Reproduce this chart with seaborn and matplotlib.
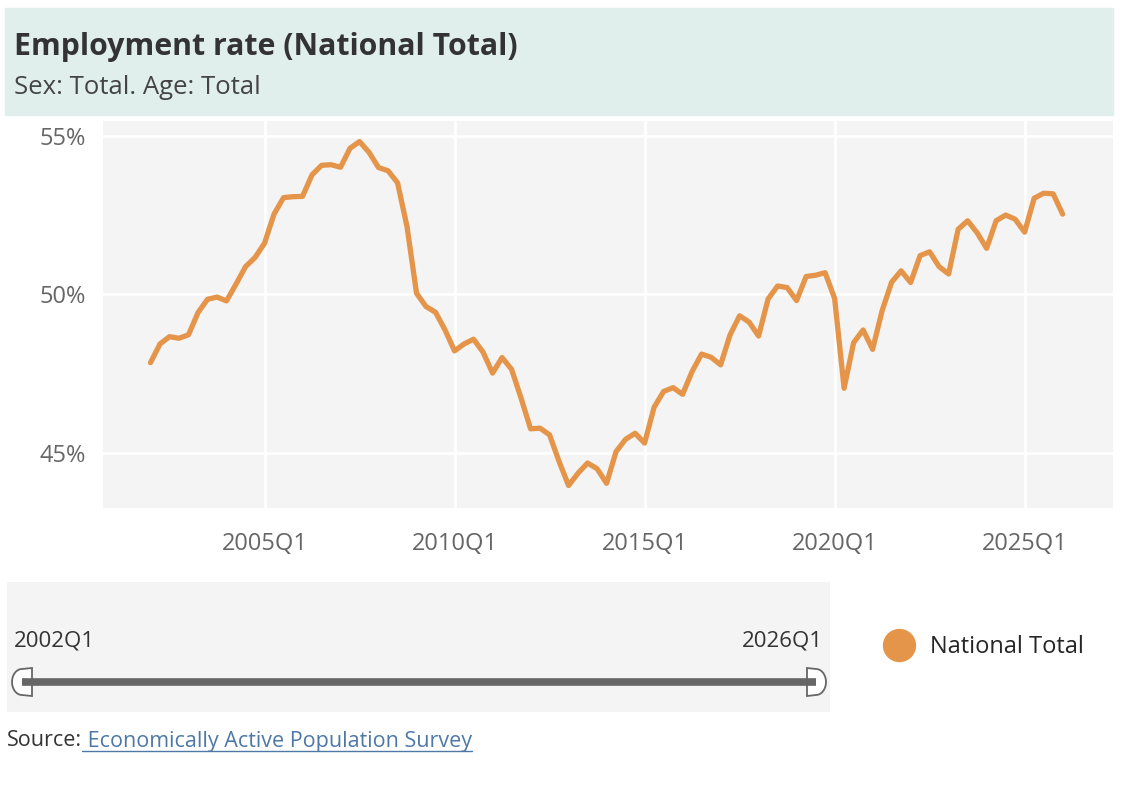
import seaborn as sns
import matplotlib.pyplot as plt
import numpy as np
import pandas as pd
from matplotlib.patches import Rectangle, Polygon
from matplotlib.lines import Line2D

# employment rate, quarterly 2002Q1 .. 2026Q1
rate = [
    47.84, 48.43, 48.66, 48.61, 48.72, 49.42, 49.84, 49.91, 49.79, 50.32, 50.87, 51.16,
    51.61, 52.53, 53.05, 53.08, 53.09, 53.77, 54.07, 54.09, 54.01, 54.61, 54.82, 54.48,
    54.00, 53.90, 53.52, 52.13, 50.03, 49.61, 49.43, 48.87, 48.21, 48.43, 48.58, 48.17,
    47.51, 48.00, 47.63, 46.72, 45.75, 45.77, 45.56, 44.72, 43.96, 44.35, 44.67, 44.49,
    44.03, 45.03, 45.42, 45.61, 45.30, 46.43, 46.93, 47.05, 46.84, 47.56, 48.11, 48.01,
    47.77, 48.72, 49.32, 49.12, 48.68, 49.85, 50.26, 50.21, 49.80, 50.56, 50.60, 50.68,
    49.87, 47.03, 48.47, 48.87, 48.26, 49.48, 50.38, 50.74, 50.37, 51.22, 51.34, 50.87,
    50.64, 52.05, 52.32, 51.94, 51.45, 52.32, 52.50, 52.37, 51.96, 53.03, 53.19, 53.17,
    52.53,
]
quarters = [f"{2002 + i // 4}Q{i % 4 + 1}" for i in range(len(rate))]
tick_labels = ["2005Q1", "2010Q1", "2015Q1", "2020Q1", "2025Q1"]
y_ticks = [45, 50, 55]

df = pd.DataFrame({"quarter": quarters, "rate": rate})
df["idx"] = np.arange(len(df))

W, H = 1122, 786
ORANGE = "#e5954a"
GREY = "#666666"

sns.set_theme(style="white")
plt.rcParams["font.family"] = ["Open Sans", "DejaVu Sans"]


def box(x0, y0, x1, y1):
    return [x0 / W, 1 - y1 / H, (x1 - x0) / W, (y1 - y0) / H]


fig = plt.figure(figsize=(W / 100, H / 100), dpi=100)

# header band
fig.add_artist(Rectangle((5 / W, 1 - 115 / H), 1108 / W, 107 / H,
                         transform=fig.transFigure, color="#e0eeec", zorder=0))
fig.text(14 / W, 1 - 47 / H, "Employment rate (National Total)", fontsize=21.8,
         fontweight="bold", color="#333333", va="center")
fig.text(14 / W, 1 - 88 / H, "Sex: Total. Age: Total", fontsize=18.5,
         color="#444444", va="center")

# main chart
ax = fig.add_axes(box(103, 121, 1113, 508))
ax.set_facecolor("#f4f4f4")
sns.lineplot(data=df, x="idx", y="rate", color=ORANGE, lw=3.8, ax=ax,
             solid_capstyle="round", solid_joinstyle="round")
ax.set_xlim(-5, 101.3)
ax.set_ylim(43.25, 55.47)
ax.set_xticks([quarters.index(t) for t in tick_labels])
ax.set_xticklabels(tick_labels)
ax.set_yticks(y_ticks)
ax.set_yticklabels([f"{v}%" for v in y_ticks])
ax.grid(True, color="white", lw=2)
ax.tick_params(axis="both", length=0, labelsize=17, colors=GREY)
ax.tick_params(axis="x", pad=17)
ax.tick_params(axis="y", pad=12)
ax.set_xlabel("")
ax.set_ylabel("")
for s in ax.spines.values():
    s.set_visible(False)

# range slider panel
sl = fig.add_axes(box(7, 582, 830, 712))
sl.set_facecolor("#f4f4f4")
sl.set_xlim(7, 830)
sl.set_ylim(712, 582)
sl.set_xticks([])
sl.set_yticks([])
for s in sl.spines.values():
    s.set_visible(False)
sl.text(14, 641, quarters[0], fontsize=16, color="#333333", va="center", ha="left")
sl.text(823, 641, quarters[-1], fontsize=16, color="#333333", va="center", ha="right")
sl.plot([22, 816], [682, 682], color=GREY, lw=5.5, solid_capstyle="butt")
t = np.linspace(np.pi / 2, 3 * np.pi / 2, 20)
left = np.column_stack([np.r_[32, 22 + 10 * np.cos(t), 32], np.r_[668, 682 - 13 * np.sin(t), 696]])
right = np.column_stack([np.r_[807, 816 - 10 * np.cos(t), 807], np.r_[668, 682 - 13 * np.sin(t), 696]])
for pts in (left, right):
    sl.add_patch(Polygon(pts, closed=True, facecolor="white", edgecolor=GREY, lw=1.3))

# legend
handle = Line2D([], [], color=ORANGE, marker="o", linestyle="", markersize=23)
fig.legend(handles=[handle], labels=["National Total"], loc="center left",
           bbox_to_anchor=(854 / W, 1 - 647 / H), frameon=False, fontsize=17,
           handletextpad=0.3)

# source line
src = fig.text(7 / W, 1 - 741 / H, "Source:", fontsize=15.5, color="#333333", va="center")
fig.canvas.draw()
x_end = src.get_window_extent().x1 / W
link = fig.text(x_end, 1 - 741 / H, " Economically Active Population Survey", fontsize=15.5,
                color="#4e79a7", va="center")
fig.canvas.draw()
bb = link.get_window_extent()
fig.add_artist(Line2D([bb.x0 / W, bb.x1 / W], [1 - 751 / H, 1 - 751 / H],
                      transform=fig.transFigure, color="#4e79a7", lw=1))

fig.savefig("out.png", dpi=100)
